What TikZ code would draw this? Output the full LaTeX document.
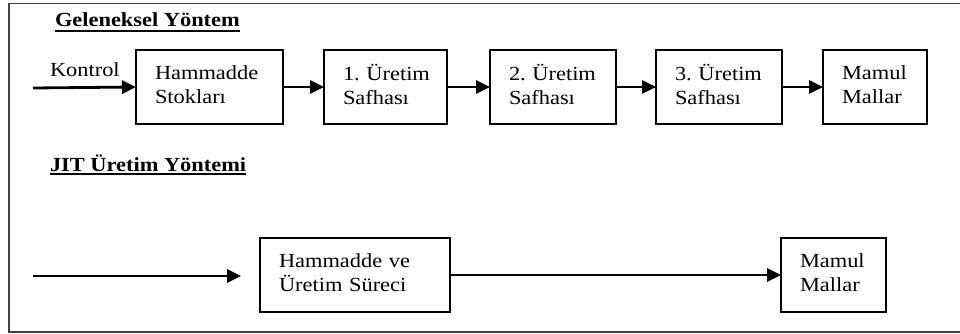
\documentclass[tikz,border=0pt]{standalone}
\usepackage{fontspec}
\setmainfont[FakeStretch=1.12]{Liberation Serif}
\usetikzlibrary{arrows.meta}

\begin{document}
\begin{tikzpicture}[x=1pt,y=-1pt,
  every node/.style={font=\fontsize{20}{24.5}\selectfont, inner sep=0pt, outer sep=0pt},
  heading/.style={anchor=base west, font=\fontsize{20}{24.5}\selectfont\bfseries},
  underline/.style={line width=1.8pt},
  stage/.style={draw, line width=2.6pt, align=left, anchor=north west,
    minimum height=74pt, inner xsep=19pt, text width=#1, text depth=29.5pt,
    execute at begin node={\hyphenpenalty=10000\exhyphenpenalty=10000}},
  flow/.style={line width=2.8pt, -{Triangle[length=14pt,width=13pt]}},
  frame/.style={line width=1.8pt, draw=black!75}]
  \useasboundingbox (0,0) rectangle (960,334);

  % open outer frame
  \draw[frame] (960,3.5) -- (9,3.5) -- (9,332) -- (960,332);

  % traditional method
  \node[heading] (t1) at (55,27) {Geleneksel Yöntem};
  \draw[underline] ([yshift=-4pt]t1.base west) -- ([yshift=-4pt]t1.base east);
  \node[anchor=base west] (kontrol) at (50,77) {Kontrol};
  \coordinate (kin) at (33,88);
  \node[stage=109pt] (h1) at (136,50) {Hammadde\\Stokları};
  \node[stage=85pt]  (h2) at (324,50) {1.~Üretim\\Safhası};
  \node[stage=88pt]  (h3) at (490,50) {2.~Üretim\\Safhası};
  \node[stage=88pt]  (h4) at (656,50) {3.~Üretim\\Safhası};
  \node[stage=66pt]  (h5) at (823,50) {Mamul\\Mallar};
  \draw[flow] (kin) -- (h1.west);
  \draw[flow] (h1) -- (h2);
  \draw[flow] (h2) -- (h3);
  \draw[flow] (h3) -- (h4);
  \draw[flow] (h4) -- (h5);

  % JIT method
  \node[heading] (t2) at (50,171) {JIT Üretim Yöntemi};
  \draw[underline] ([yshift=-3pt]t2.base west) -- ([yshift=-3pt]t2.base east);
  \coordinate (jin) at (33,276);
  \node[stage=152pt] (j1) at (260,238) {Hammadde ve\\Üretim Süreci};
  \node[stage=67pt]  (j2) at (781,238) {Mamul\\Mallar};
  \draw[flow, shorten >=19pt] (jin) -- (jin -| j1.west);
  \draw[flow] (j1) -- (j2);
\end{tikzpicture}
\end{document}
